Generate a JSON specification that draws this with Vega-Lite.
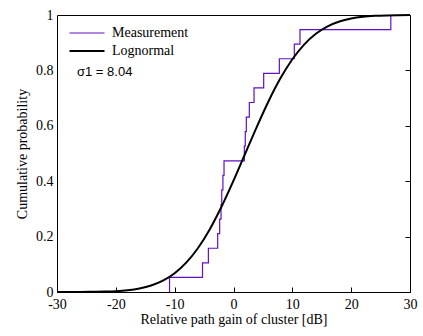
{
  "$schema": "https://vega.github.io/schema/vega-lite/v6.json",
  "autosize": {"type": "none"},
  "padding": {"left": 57, "top": 15, "right": 13, "bottom": 44},
  "width": 353,
  "height": 277,
  "background": "white",
  "config": {
    "view": {"stroke": "black", "strokeWidth": 1},
    "font": "Liberation Serif",
    "axis": {"grid": true, "gridColor": "black", "gridWidth": 1, "gridOpacity": 1, "gridDash": [5, 1000], "domain": false, "ticks": false, "labelColor": "black", "titleColor": "black", "labelFont": "Liberation Serif", "titleFont": "Liberation Serif", "labelFontSize": 14, "titleFontSize": 14, "titleFontWeight": "normal", "labelFlush": false, "zindex": 1}
  },
  "datasets": {
    "curves": [
      {"i": 0, "x": -30, "p": 0.00003, "series": "Lognormal"},
      {"i": 1, "x": -28, "p": 0.0001, "series": "Lognormal"},
      {"i": 2, "x": -26, "p": 0.00025, "series": "Lognormal"},
      {"i": 3, "x": -24, "p": 0.0006, "series": "Lognormal"},
      {"i": 4, "x": -22, "p": 0.0014, "series": "Lognormal"},
      {"i": 5, "x": -20, "p": 0.0031, "series": "Lognormal"},
      {"i": 6, "x": -18, "p": 0.0064, "series": "Lognormal"},
      {"i": 7, "x": -16, "p": 0.0126, "series": "Lognormal"},
      {"i": 8, "x": -14, "p": 0.0233, "series": "Lognormal"},
      {"i": 9, "x": -12, "p": 0.0408, "series": "Lognormal"},
      {"i": 10, "x": -10, "p": 0.0678, "series": "Lognormal"},
      {"i": 11, "x": -8, "p": 0.1068, "series": "Lognormal"},
      {"i": 12, "x": -6, "p": 0.1599, "series": "Lognormal"},
      {"i": 13, "x": -4, "p": 0.2278, "series": "Lognormal"},
      {"i": 14, "x": -2, "p": 0.3094, "series": "Lognormal"},
      {"i": 15, "x": 0, "p": 0.4018, "series": "Lognormal"},
      {"i": 16, "x": 2, "p": 0.5, "series": "Lognormal"},
      {"i": 17, "x": 4, "p": 0.5982, "series": "Lognormal"},
      {"i": 18, "x": 6, "p": 0.6906, "series": "Lognormal"},
      {"i": 19, "x": 8, "p": 0.7722, "series": "Lognormal"},
      {"i": 20, "x": 10, "p": 0.8401, "series": "Lognormal"},
      {"i": 21, "x": 12, "p": 0.8932, "series": "Lognormal"},
      {"i": 22, "x": 14, "p": 0.9322, "series": "Lognormal"},
      {"i": 23, "x": 16, "p": 0.9592, "series": "Lognormal"},
      {"i": 24, "x": 18, "p": 0.9767, "series": "Lognormal"},
      {"i": 25, "x": 20, "p": 0.9874, "series": "Lognormal"},
      {"i": 26, "x": 22, "p": 0.9936, "series": "Lognormal"},
      {"i": 27, "x": 24, "p": 0.9969, "series": "Lognormal"},
      {"i": 28, "x": 26, "p": 0.9986, "series": "Lognormal"},
      {"i": 29, "x": 28, "p": 0.9994, "series": "Lognormal"},
      {"i": 30, "x": 30, "p": 0.9998, "series": "Lognormal"},
      {"i": 0, "x": -10.87, "p": 0, "series": "Measurement"},
      {"i": 1, "x": -10.87, "p": 0.0526, "series": "Measurement"},
      {"i": 2, "x": -5.27, "p": 0.1053, "series": "Measurement"},
      {"i": 3, "x": -4.27, "p": 0.1579, "series": "Measurement"},
      {"i": 4, "x": -2.69, "p": 0.2105, "series": "Measurement"},
      {"i": 5, "x": -2.35, "p": 0.2632, "series": "Measurement"},
      {"i": 6, "x": -2.12, "p": 0.3158, "series": "Measurement"},
      {"i": 7, "x": -2.0, "p": 0.3684, "series": "Measurement"},
      {"i": 8, "x": -1.8, "p": 0.4211, "series": "Measurement"},
      {"i": 9, "x": -1.61, "p": 0.4737, "series": "Measurement"},
      {"i": 10, "x": 1.84, "p": 0.5263, "series": "Measurement"},
      {"i": 11, "x": 2.0, "p": 0.5789, "series": "Measurement"},
      {"i": 12, "x": 2.18, "p": 0.6316, "series": "Measurement"},
      {"i": 13, "x": 2.69, "p": 0.6842, "series": "Measurement"},
      {"i": 14, "x": 3.49, "p": 0.7368, "series": "Measurement"},
      {"i": 15, "x": 5.13, "p": 0.7895, "series": "Measurement"},
      {"i": 16, "x": 7.79, "p": 0.8421, "series": "Measurement"},
      {"i": 17, "x": 10.34, "p": 0.8947, "series": "Measurement"},
      {"i": 18, "x": 11.3, "p": 0.9474, "series": "Measurement"},
      {"i": 19, "x": 26.74, "p": 1.0, "series": "Measurement"}
    ],
    "notes": [{"x": -26.6, "p": 0.794, "label": "σ1 = 8.04"}]
  },
  "layer": [
    {
      "data": {"name": "curves"},
      "transform": [{"filter": "datum.series === 'Measurement'"}],
      "mark": {"type": "line", "interpolate": "step-after", "strokeWidth": 1.2},
      "encoding": {
        "x": {"field": "x", "type": "quantitative", "scale": {"domain": [-30, 30], "nice": false, "zero": false},
              "axis": {"orient": "top", "labels": false, "title": null, "values": [-30, -20, -10, 0, 10, 20, 30]}},
        "y": {"field": "p", "type": "quantitative", "scale": {"domain": [0, 1], "nice": false},
              "axis": {"orient": "right", "labels": false, "title": null, "values": [0, 0.2, 0.4, 0.6, 0.8, 1]}},
        "order": {"field": "i", "type": "quantitative"},
        "color": {"field": "series", "type": "nominal",
                  "scale": {"domain": ["Measurement", "Lognormal"], "range": ["#6010c8", "#000000"]},
                  "legend": {"orient": "none", "legendX": 23, "legendY": 11, "title": null, "symbolType": "M-5,0H5", "symbolSize": 49, "labelFont": "Liberation Serif", "labelFontSize": 14, "labelColor": "black", "labelOffset": 18, "rowPadding": 4, "padding": 0,
                             "encode": {"symbols": {"update": {"strokeWidth": {"signal": "datum.value === 'Lognormal' ? 2 : 1"}}}}}}
      }
    },
    {
      "data": {"name": "curves"},
      "transform": [{"filter": "datum.series === 'Lognormal'"}],
      "mark": {"type": "line", "interpolate": "monotone", "strokeWidth": 2},
      "encoding": {
        "x": {"field": "x", "type": "quantitative",
              "axis": {"orient": "bottom", "title": "Relative path gain of cluster [dB]", "values": [-30, -20, -10, 0, 10, 20, 30], "labelPadding": 5, "labelExpr": "'' + datum.value", "titlePadding": 1}},
        "y": {"field": "p", "type": "quantitative",
              "axis": {"orient": "left", "title": "Cumulative probability", "values": [0, 0.2, 0.4, 0.6, 0.8, 1], "labelPadding": 4, "format": "~g", "titlePadding": 6}},
        "order": {"field": "i", "type": "quantitative"},
        "color": {"field": "series", "type": "nominal"}
      }
    },
    {
      "data": {"name": "notes"},
      "mark": {"type": "text", "align": "left", "baseline": "middle", "font": "Liberation Sans", "fontSize": 13, "color": "black"},
      "encoding": {
        "x": {"field": "x", "type": "quantitative", "axis": null},
        "y": {"field": "p", "type": "quantitative", "axis": null},
        "text": {"field": "label"}
      }
    }
  ],
  "resolve": {"axis": {"x": "independent", "y": "independent"}}
}
